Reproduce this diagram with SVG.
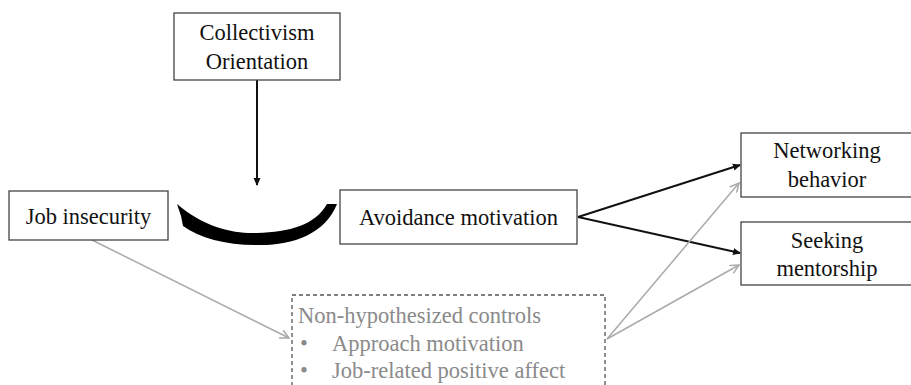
<svg xmlns="http://www.w3.org/2000/svg" width="911" height="385" viewBox="0 0 911 385">
<defs>
<style>
.box{fill:#fff;stroke:#444;stroke-width:1.3}
.t{font-family:"Liberation Serif","Times New Roman",serif;font-size:22.5px;fill:#111;text-anchor:middle}
.g{font-family:"Liberation Serif","Times New Roman",serif;font-size:22.5px;fill:#8a8a8a}
.blk{stroke:#111;stroke-width:2;fill:none}
.gry{stroke:#aaa;stroke-width:1.5;fill:none}
</style>
<marker id="ab" markerWidth="8" markerHeight="8" refX="7" refY="4" orient="auto" markerUnits="userSpaceOnUse"><path d="M0,0.5 L8,4 L0,7.5 Z" fill="#111"/></marker>
<marker id="ag" markerWidth="10" markerHeight="10" refX="9" refY="5" orient="auto" markerUnits="userSpaceOnUse"><path d="M0,0.5 L9,5 L0,9.5" fill="none" stroke="#aaa" stroke-width="1.5"/></marker>
</defs>
<rect width="911" height="385" fill="#fff"/>
<g id="connectors">
<line x1="257" y1="80" x2="257" y2="185" class="blk" stroke-width="1.5" marker-end="url(#ab)"/>
<path id="moderation" d="M177,204 C205,228 235,234 257,233 C290,232 315,225 327,204 L337,204 C325,235 290,246 257,245 C225,245 200,238 183,226 L181,216 Z" fill="#000"/>
<line x1="578" y1="217" x2="740" y2="165" class="blk" marker-end="url(#ab)"/>
<line x1="578" y1="217" x2="740" y2="253" class="blk" marker-end="url(#ab)"/>
<line x1="92" y1="240" x2="289" y2="338" class="gry" marker-end="url(#ag)"/>
<line x1="607" y1="339" x2="739" y2="183" class="gry" marker-end="url(#ag)"/>
<line x1="607" y1="339" x2="739" y2="265" class="gry" marker-end="url(#ag)"/>
</g>
<g id="collectivism">
<rect x="174" y="13" width="166" height="67" class="box"/>
<text x="257" y="40" class="t">Collectivism</text>
<text x="257" y="69" class="t">Orientation</text>
</g>
<g id="job-insecurity">
<rect x="9" y="191" width="159" height="49" class="box"/>
<text x="88.5" y="224" class="t">Job insecurity</text>
</g>
<g id="avoidance">
<rect x="340" y="190" width="237" height="54" class="box"/>
<text x="458.5" y="225" class="t">Avoidance motivation</text>
</g>
<g id="networking">
<rect x="741" y="133" width="172" height="64" class="box"/>
<text x="827" y="158" class="t">Networking</text>
<text x="827" y="187" class="t">behavior</text>
</g>
<g id="mentorship">
<rect x="741" y="222" width="172" height="63" class="box"/>
<text x="827" y="248" class="t">Seeking</text>
<text x="827" y="276" class="t">mentorship</text>
</g>
<g id="controls">
<rect x="292" y="295" width="313" height="100" fill="none" stroke="#555" stroke-width="1.3" stroke-dasharray="4,3"/>
<text x="298" y="323" class="g">Non-hypothesized controls</text>
<text x="300" y="351" class="g">•</text>
<text x="332" y="351" class="g">Approach motivation</text>
<text x="300" y="378" class="g">•</text>
<text x="332" y="378" class="g">Job-related positive affect</text>
</g>
</svg>
